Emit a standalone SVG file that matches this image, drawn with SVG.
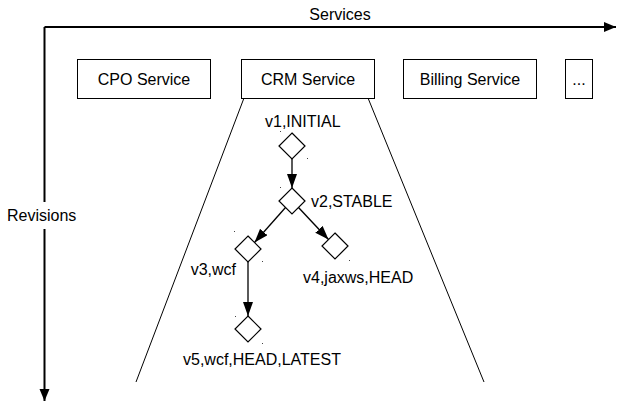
<svg xmlns="http://www.w3.org/2000/svg" width="618" height="405" viewBox="0 0 618 405">
  <style>
    text { font-family: "Liberation Sans", Arial, sans-serif; font-size: 16px; fill: #000; }
    .box { fill: #fff; stroke: #000; stroke-width: 1; }
    .ver { fill: #fff; stroke: #000; stroke-width: 1.2; }
    .axis { stroke: #000; stroke-width: 2; fill: none; }
    .edge { stroke: #000; stroke-width: 1.3; fill: none; }
    .trap { stroke: #000; stroke-width: 1; fill: none; }
    .dot { fill: #444; }
  </style>
  <defs>
    <marker id="axisHead" markerUnits="userSpaceOnUse" markerWidth="14" markerHeight="12" refX="12" refY="5" orient="auto">
      <path d="M0,0 L12,5 L0,10 Z" fill="#000"/>
    </marker>
    <marker id="edgeHead" markerUnits="userSpaceOnUse" markerWidth="16" markerHeight="12" refX="14" refY="5" orient="auto">
      <path d="M0,0 L14,5 L0,10 Z" fill="#000"/>
    </marker>
  </defs>

  <rect width="618" height="405" fill="#fff"/>

  <!-- axes -->
  <g id="axes">
    <path class="axis" d="M44.5,27 H616" marker-end="url(#axisHead)"/>
    <path class="axis" d="M44.5,27 V401" marker-end="url(#axisHead)"/>
    <rect x="5" y="202" width="78" height="27" fill="#fff"/>
    <text x="340" y="20" text-anchor="middle">Services</text>
    <text x="7" y="221">Revisions</text>
  </g>

  <!-- scope of the CRM service history -->
  <path id="crm-scope" class="trap" d="M244,98 L136,382 M368,98 L484,382"/>

  <!-- services -->
  <g id="svc-cpo">
    <rect class="box" x="77.5" y="59.5" width="133" height="39"/>
    <text x="144" y="85" text-anchor="middle">CPO Service</text>
  </g>
  <g id="svc-crm">
    <rect class="box" x="241.5" y="59.5" width="133" height="39"/>
    <text x="308" y="85" text-anchor="middle">CRM Service</text>
  </g>
  <g id="svc-billing">
    <rect class="box" x="403.5" y="59.5" width="133" height="39"/>
    <text x="470" y="85" text-anchor="middle">Billing Service</text>
  </g>
  <g id="svc-more">
    <rect class="box" x="565.5" y="59.5" width="27" height="39"/>
    <text x="579" y="85" text-anchor="middle">...</text>
  </g>

  <!-- revision edges -->
  <g id="edges">
    <path class="edge" d="M292,159 V188" marker-end="url(#edgeHead)"/>
    <path class="edge" d="M285.5,207.5 L254.5,242.5" marker-end="url(#edgeHead)"/>
    <path class="edge" d="M298.5,207.5 L328.5,239.5" marker-end="url(#edgeHead)"/>
    <path class="edge" d="M248,262 V316" marker-end="url(#edgeHead)"/>
  </g>

  <!-- revisions -->
  <g id="rev-v1">
    <path class="ver" d="M292,133 L305,146 L292,159 L279,146 Z"/>
    <rect class="dot" x="280" y="131" width="1" height="1"/>
    <rect class="dot" x="307" y="158" width="1" height="1"/>
    <text x="265" y="127">v1,INITIAL</text>
  </g>
  <g id="rev-v2">
    <path class="ver" d="M292,188 L305,201 L292,214 L279,201 Z"/>
    <rect class="dot" x="280" y="187" width="1" height="1"/>
    <text x="311" y="207">v2,STABLE</text>
  </g>
  <g id="rev-v3">
    <path class="ver" d="M248,236 L261,249 L248,262 L235,249 Z"/>
    <rect class="dot" x="234" y="231" width="1" height="1"/>
    <rect class="dot" x="262" y="261" width="1" height="1"/>
    <text x="236" y="275" text-anchor="end">v3,wcf</text>
  </g>
  <g id="rev-v4">
    <path class="ver" d="M335,233 L348,246 L335,259 L322,246 Z"/>
    <rect class="dot" x="318" y="230" width="1" height="1"/>
    <rect class="dot" x="349" y="260" width="1" height="1"/>
    <text x="303" y="283">v4,jaxws,HEAD</text>
  </g>
  <g id="rev-v5">
    <path class="ver" d="M248,316 L261,329 L248,342 L235,329 Z"/>
    <rect class="dot" x="235" y="316" width="1" height="1"/>
    <rect class="dot" x="262" y="343" width="1" height="1"/>
    <text x="183" y="365">v5,wcf,HEAD,LATEST</text>
  </g>
</svg>
